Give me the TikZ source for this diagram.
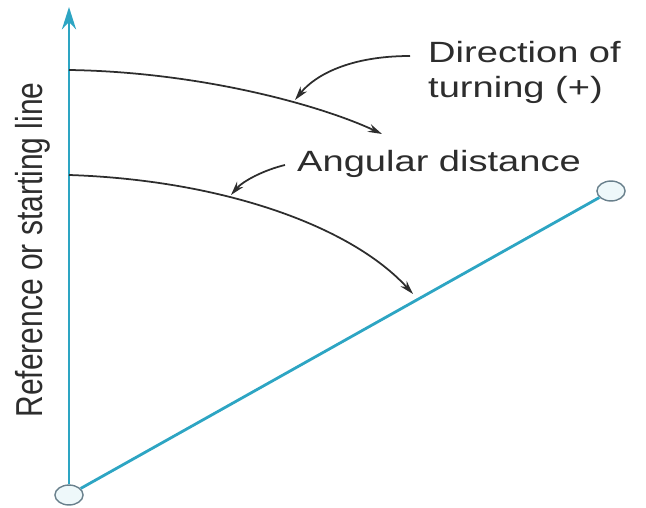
\documentclass[tikz,border=0pt]{standalone}
\usepackage{fontspec}
\setmainfont{Liberation Sans}
\newfontfamily\lblfont[FakeStretch=1.3]{Liberation Sans}
\newfontfamily\sidefont[FakeStretch=0.8]{Liberation Sans}
\usetikzlibrary{arrows.meta,shapes.geometric}
\definecolor{refblue}{RGB}{45,165,195}
\definecolor{ringgray}{RGB}{105,128,140}
\definecolor{ink}{RGB}{45,45,45}
\tikzset{
  >={Stealth[length=12pt,width=7pt]},
  refline/.style={draw=refblue,line width=2.4pt},
  endpt/.style={ellipse,draw=ringgray,fill=refblue!8,line width=1.2pt,
    minimum width=24pt,minimum height=17pt,inner sep=0pt},
  turn/.style={->,draw=ink,line width=1.5pt},
  leader/.style={->,draw=ink,line width=1.5pt},
  lbl/.style={font=\lblfont\fontsize{25}{30}\selectfont,text=ink,align=left,inner sep=0pt},
  side/.style={font=\sidefont\fontsize{32}{36}\selectfont,text=ink,inner sep=0pt},
}
\begin{document}
\begin{tikzpicture}[x=0.03cm,y=-0.03cm]
  \useasboundingbox (0,0) rectangle (646,508);
  % end points and lines
  \node[endpt] (origin) at (69,495) {};
  \node[endpt] (tip) at (611,191) {};
  \coordinate (up) at (69,7);
  \draw[refline,-{Stealth[length=19pt,width=12pt]},refblue] (origin) -- (up);
  \draw[refline] (origin) -- (tip);
  % turning arcs
  \coordinate (s1) at (69,70);
  \coordinate (e1) at (382,134);
  \coordinate (s2) at (69,175);
  \coordinate (e2) at (413,294);
  \draw[turn] (s1) .. controls (200,72) and (320,105) .. (e1);
  \draw[turn] (s2) .. controls (220,180) and (350,225) .. (e2);
  % labels
  \node[lbl,anchor=base west] (dir) at (428,98) {Direction of\\turning (+)};
  \node[lbl,anchor=base west] (ang) at (297,172) {Angular distance};
  \node[side,rotate=90,anchor=base] (ref) at (42,250) {Reference or starting line};
  \coordinate (l1) at (410,56);
  \coordinate (h1) at (295,100);
  \coordinate (l2) at (285,165);
  \coordinate (h2) at (231,195);
  \draw[leader] (l1) .. controls (350,56) and (315,75) .. (h1);
  \draw[leader] (l2) .. controls (264,170) and (243,181) .. (h2);
\end{tikzpicture}
\end{document}
